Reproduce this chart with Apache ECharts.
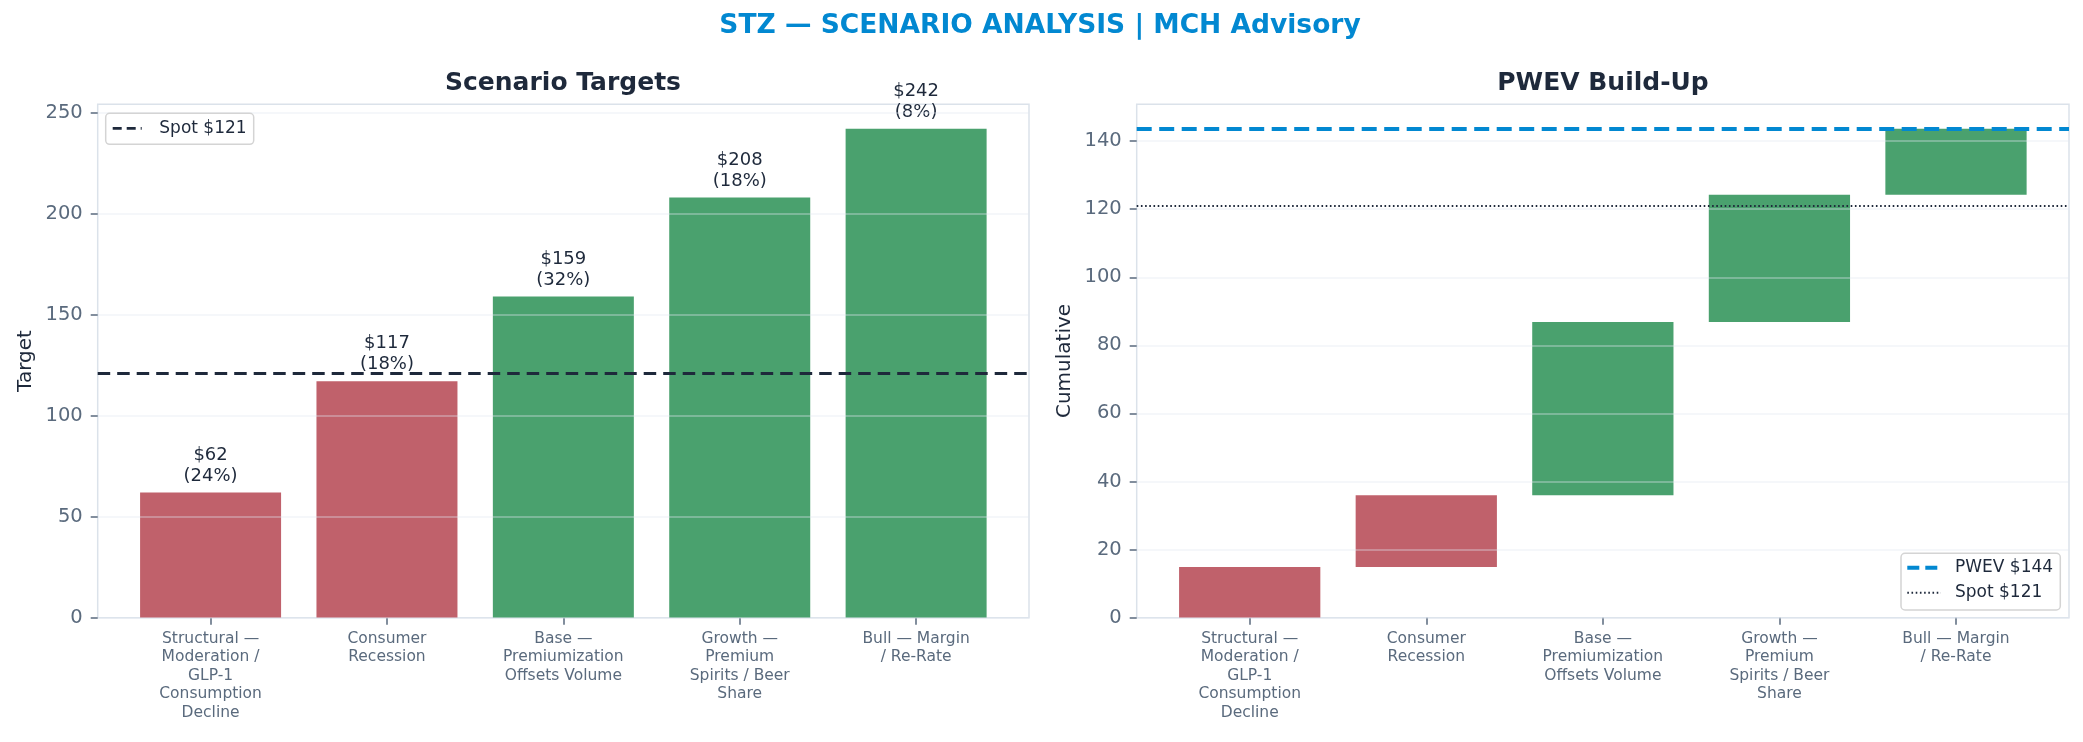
<!DOCTYPE html>
<html>
<head>
<meta charset="utf-8">
<title>STZ — Scenario Analysis</title>
<script src="https://cdn.jsdelivr.net/npm/echarts@6/dist/echarts.min.js"></script>
<style>
  html, body { margin: 0; padding: 0; background: #fff; }
  #main { width: 2083px; height: 742px; }
</style>
</head>
<body>
<div id="main"></div>
<script>
// scenario data
const categories = [
    'Structural — Moderation / GLP-1 Consumption Decline',
    'Consumer Recession',
    'Base — Premiumization Offsets Volume',
    'Growth — Premium Spirits / Beer Share',
    'Bull — Margin / Re-Rate'
];
const tickLabels = [
    'Structural —\nModeration /\nGLP-1\nConsumption\nDecline',
    'Consumer\nRecession',
    'Base —\nPremiumization\nOffsets Volume',
    'Growth —\nPremium\nSpirits / Beer\nShare',
    'Bull — Margin\n/ Re-Rate'
];
const targets = [62, 117, 159, 208, 242];
const probs = [24, 18, 32, 18, 8];   // %
const spot = 121;
const leftTicks = [0, 50, 100, 150, 200, 250];
const rightTicks = [0, 20, 40, 60, 80, 100, 120, 140];
const catPos = [0, 1, 2, 3, 4];

// waterfall: contribution = target * prob, stacked from 0
const contrib = targets.map((t, i) => t * probs[i] / 100);
const wfLow = [], wfHigh = [];
let run = 0;
contrib.forEach(c => { wfLow.push(run); run += c; wfHigh.push(run); });
const pwev = run;

const RED = '#c0616b', GREEN = '#4aa16e';
const DARK = '#1e293b', MUTED = '#5a6a7d', FRAME = '#dbe2ea';
const FONT = 'DejaVu Sans';
const BAR_W = 0.8; // in category units
const colorFor = t => (t < spot ? RED : GREEN);

function xAxisFor(gridIndex) {
    return {
        type: 'value', gridIndex: gridIndex, min: -0.64, max: 4.64,
        splitLine: {show: false},
        axisLine: {show: false, onZero: false},
        axisTick: {show: true, length: 7, customValues: catPos, lineStyle: {color: MUTED, width: 1.5}},
        axisLabel: {
            customValues: catPos, margin: 12, color: MUTED, fontFamily: FONT,
            fontSize: 15.5, lineHeight: 18.5,
            formatter: v => tickLabels[Math.round(v)]
        }
    };
}

function yAxisFor(gridIndex, max, ticks, name) {
    return {
        type: 'value', gridIndex: gridIndex, min: 0, max: max, z: 3,
        name: name, nameLocation: 'middle', nameGap: 62,
        nameTextStyle: {color: DARK, fontSize: 20, fontFamily: FONT},
        axisLine: {show: false, onZero: false},
        axisTick: {show: true, length: 7, customValues: ticks, lineStyle: {color: MUTED, width: 1.5}},
        axisLabel: {customValues: ticks, margin: 15, color: MUTED, fontSize: 19.5, fontFamily: FONT},
        splitLine: {show: true, lineStyle: {color: 'rgba(226,232,240,0.45)', width: 1.5}}
    };
}

function renderFloatingBar(params, api) {
    let x = api.value(0);
    let p1 = api.coord([x - BAR_W / 2, api.value(2)]);
    let p2 = api.coord([x + BAR_W / 2, api.value(1)]);
    return {
        type: 'rect',
        shape: {x: p1[0], y: p1[1], width: p2[0] - p1[0], height: p2[1] - p1[1]},
        style: {fill: colorFor(targets[params.dataIndex])}
    };
}

let option = {
    backgroundColor: '#fff',
    animation: false,
    textStyle: {fontFamily: FONT},
    title: [
        {text: 'STZ — SCENARIO ANALYSIS | MCH Advisory', left: 1040, top: 13, textAlign: 'center', padding: 0,
            textStyle: {color: '#0288d1', fontSize: 26.5, fontWeight: 'bold', lineHeight: 27, fontFamily: FONT}},
        {text: 'Scenario Targets', left: 563, top: 71, textAlign: 'center', padding: 0,
            textStyle: {color: DARK, fontSize: 25, fontWeight: 'bold', lineHeight: 25, fontFamily: FONT}},
        {text: 'PWEV Build-Up', left: 1603, top: 71, textAlign: 'center', padding: 0,
            textStyle: {color: DARK, fontSize: 25, fontWeight: 'bold', lineHeight: 25, fontFamily: FONT}}
    ],
    grid: [
        {left: 97.7, width: 931.3, top: 104.3, height: 513.4, show: true, borderColor: FRAME, borderWidth: 1.5},
        {left: 1136.7, width: 932.3, top: 104.3, height: 513.4, show: true, borderColor: FRAME, borderWidth: 1.5}
    ],
    xAxis: [xAxisFor(0), xAxisFor(1)],
    yAxis: [
        yAxisFor(0, Math.max(...targets) * 1.05, leftTicks, 'Target'),
        yAxisFor(1, pwev * 1.05, rightTicks, 'Cumulative')
    ],
    series: [
        {
            name: 'Target', type: 'bar', xAxisIndex: 0, yAxisIndex: 0, barWidth: 141,
            data: targets.map((t, i) => ({value: [i, t], itemStyle: {color: colorFor(t)}})),
            label: {
                show: true, position: 'top', distance: 6, color: DARK, fontSize: 18, lineHeight: 21,
                fontFamily: FONT, align: 'center',
                formatter: p => '$' + targets[p.dataIndex] + '\n(' + probs[p.dataIndex] + '%)'
            },
            markLine: {
                silent: true, symbol: 'none', label: {show: false},
                lineStyle: {color: DARK, type: [12.5, 7], width: 2.8},
                data: [{yAxis: spot}]
            }
        },
        {
            name: 'Contribution', type: 'custom', xAxisIndex: 1, yAxisIndex: 1,
            renderItem: renderFloatingBar,
            encode: {x: 0, y: [1, 2]},
            data: contrib.map((c, i) => [i, wfLow[i], wfHigh[i]]),
            markLine: {
                silent: true, symbol: 'none', label: {show: false},
                data: [
                    {yAxis: pwev, lineStyle: {color: '#0288d1', type: [15, 7.5], width: 4}},
                    {yAxis: spot, lineStyle: {color: DARK, type: [1.6, 2.6], width: 2}}
                ]
            }
        }
    ],
    // legend boxes drawn by hand so the dash styles show
    graphic: [
        {type: 'rect', shape: {x: 105.7, y: 113.3, width: 148, height: 31, r: 4},
            style: {fill: 'rgba(255,255,255,0.85)', stroke: '#d4d4d4', lineWidth: 1.5}, z: 10},
        {type: 'line', shape: {x1: 112.7, y1: 128.3, x2: 141.7, y2: 128.3},
            style: {stroke: DARK, lineWidth: 2.8, lineDash: [9, 5]}, z: 11},
        {type: 'text', x: 159.3, y: 128.3,
            style: {text: 'Spot $' + spot, fill: DARK, font: '17px "DejaVu Sans"', textVerticalAlign: 'middle'}, z: 11},

        {type: 'rect', shape: {x: 1901, y: 553.3, width: 159.3, height: 56.7, r: 4},
            style: {fill: 'rgba(255,255,255,0.85)', stroke: '#d4d4d4', lineWidth: 1.5}, z: 10},
        {type: 'line', shape: {x1: 1907.3, y1: 567.7, x2: 1941, y2: 567.7},
            style: {stroke: '#0288d1', lineWidth: 4, lineDash: [12, 6]}, z: 11},
        {type: 'text', x: 1955, y: 567.7,
            style: {text: 'PWEV $' + Math.round(pwev), fill: DARK, font: '17px "DejaVu Sans"', textVerticalAlign: 'middle'}, z: 11},
        {type: 'line', shape: {x1: 1907.3, y1: 592.7, x2: 1941, y2: 592.7},
            style: {stroke: DARK, lineWidth: 2, lineDash: [1.6, 2.6]}, z: 11},
        {type: 'text', x: 1955, y: 592.7,
            style: {text: 'Spot $' + spot, fill: DARK, font: '17px "DejaVu Sans"', textVerticalAlign: 'middle'}, z: 11}
    ]
};

let myChart = echarts.init(document.getElementById('main'));
myChart.setOption(option);
</script>
</body>
</html>
